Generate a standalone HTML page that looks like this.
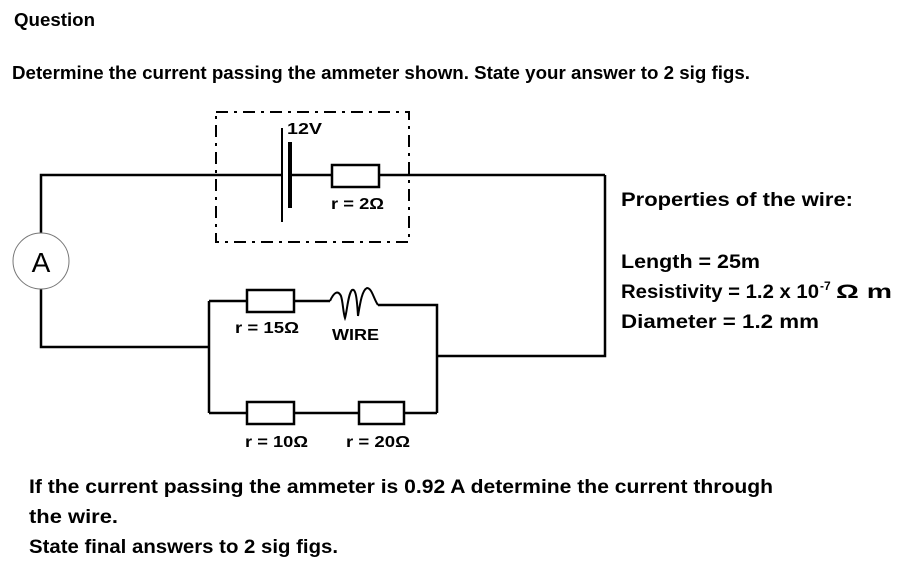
<!DOCTYPE html>
<html><head><style>
html,body{margin:0;padding:0;background:#fff;}
svg{display:block;}
text{font-family:"Liberation Sans",sans-serif;fill:#000;}
.b{font-weight:bold;}
</style></head><body>
<svg width="916" height="572" viewBox="0 0 916 572" xmlns="http://www.w3.org/2000/svg">
<text x="14" y="26" class="b" font-size="18" textLength="81" lengthAdjust="spacingAndGlyphs">Question</text>
<text x="12" y="79" class="b" font-size="18" textLength="738" lengthAdjust="spacingAndGlyphs">Determine the current passing the ammeter shown. State your answer to 2 sig figs.</text>

<g stroke="#000" stroke-width="2.5" fill="none">
<polyline points="41,233 41,175 282,175"/>
<line x1="290" y1="175" x2="332" y2="175"/>
<line x1="379" y1="175" x2="605" y2="175"/>
<polyline points="605,175 605,356 437,356"/>
<line x1="282" y1="128" x2="282" y2="222" stroke-width="2"/>
<line x1="290" y1="142" x2="290" y2="208" stroke-width="4"/>
<rect x="332" y="165" width="47" height="22" stroke-width="2.5"/>
<polyline points="41,289 41,347 209,347"/>
<line x1="209" y1="301" x2="209" y2="413"/>
<line x1="209" y1="301" x2="247" y2="301"/>
<rect x="247" y="290" width="47" height="22"/>
<line x1="294" y1="301" x2="330" y2="301"/>
<path d="M330,301 C334,292 338,290 341,296 C343,302 343,312 345,318 C347,312 348,294 352,290 C356,288 357,300 358,316 C360,304 362,290 367,288 C372,288 374,300 378,305" stroke-width="2"/>
<polyline points="378,305 437,305 437,413"/>
<line x1="209" y1="413" x2="247" y2="413"/>
<rect x="247" y="402" width="47" height="22"/>
<line x1="294" y1="413" x2="359" y2="413"/>
<rect x="359" y="402" width="45" height="22"/>
<line x1="404" y1="413" x2="437" y2="413"/>
</g>
<rect x="216" y="112" width="193" height="130" fill="none" stroke="#000" stroke-width="2" stroke-dasharray="12,6,3,6"/>
<circle cx="41" cy="261" r="28" fill="#fff" stroke="#777" stroke-width="1"/>
<text x="41" y="272" font-size="28" text-anchor="middle">A</text>

<text x="287" y="134" font-size="16" class="b" textLength="35" lengthAdjust="spacingAndGlyphs">12V</text>
<text x="331" y="209" font-size="16" class="b" textLength="53" lengthAdjust="spacingAndGlyphs">r = 2Ω</text>
<text x="235" y="333" font-size="16" class="b" textLength="64" lengthAdjust="spacingAndGlyphs">r = 15Ω</text>
<text x="332" y="340" font-size="16" class="b" textLength="47" lengthAdjust="spacingAndGlyphs">WIRE</text>
<text x="245" y="447" font-size="16" class="b" textLength="63" lengthAdjust="spacingAndGlyphs">r = 10Ω</text>
<text x="346" y="447" font-size="16" class="b" textLength="64" lengthAdjust="spacingAndGlyphs">r = 20Ω</text>

<text x="621" y="206" class="b" font-size="19" textLength="232" lengthAdjust="spacingAndGlyphs">Properties of the wire:</text>
<text x="621" y="268" class="b" font-size="19" textLength="139" lengthAdjust="spacingAndGlyphs">Length = 25m</text>
<text x="621" y="298" class="b" font-size="19" textLength="198" lengthAdjust="spacingAndGlyphs">Resistivity = 1.2 x 10</text>
<text x="820" y="290" class="b" font-size="12">-7</text>
<text x="836" y="298" class="b" font-size="19" textLength="56" lengthAdjust="spacingAndGlyphs">Ω m</text>
<text x="621" y="328" class="b" font-size="19" textLength="198" lengthAdjust="spacingAndGlyphs">Diameter = 1.2 mm</text>

<text x="29" y="493" class="b" font-size="19" textLength="744" lengthAdjust="spacingAndGlyphs">If the current passing the ammeter is 0.92 A determine the current through</text>
<text x="29" y="523" class="b" font-size="19" textLength="89" lengthAdjust="spacingAndGlyphs">the wire.</text>
<text x="29" y="553" class="b" font-size="19" textLength="309" lengthAdjust="spacingAndGlyphs">State final answers to 2 sig figs.</text>
</svg>
</body></html>
